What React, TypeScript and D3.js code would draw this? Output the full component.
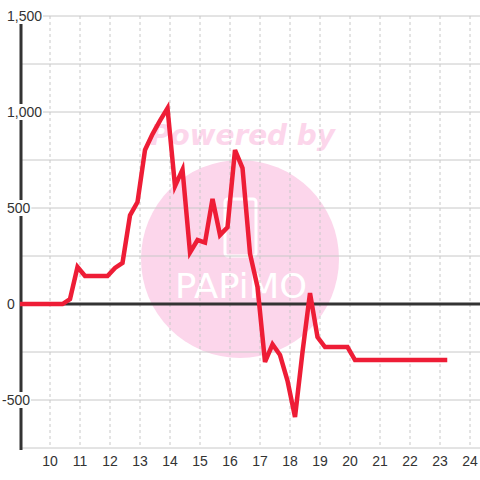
import React from "react";
import * as d3 from "d3";

const times: number[] = [
  8.917, 9.167, 9.417, 9.667, 9.917, 10.167, 10.417, 10.667, 10.917, 11.167,
  11.417, 11.667, 11.917, 12.167, 12.417, 12.667, 12.917, 13.167, 13.417, 13.667,
  13.917, 14.167, 14.417, 14.667, 14.917, 15.167, 15.417, 15.667, 15.917, 16.167,
  16.417, 16.667, 16.917, 17.167, 17.417, 17.667, 17.917, 18.167, 18.417, 18.667,
  18.917, 19.167, 19.417, 19.667, 19.917, 20.167, 20.417, 20.667, 20.917, 21.167,
  21.417, 21.667, 21.917, 22.167, 22.417, 22.667, 22.917, 23.167,
];
const values: number[] = [
  0, 0, 0, 0, 0, 0, 0, 26, 193, 146,
  146, 146, 146, 188, 214, 462, 531, 802, 885, 955,
  1020, 614, 700, 268, 333, 320, 547, 359, 400, 802,
  708, 262, 89, -302, -210, -266, -400, -589, -250, 57,
  -172, -224, -224, -224, -224, -292, -292, -292, -292, -292,
  -292, -292, -292, -292, -292, -292, -292, -292,
];
const xTicks: number[] = [10, 11, 12, 13, 14, 15, 16, 17, 18, 19, 20, 21, 22, 23, 24];
const yTicks: number[] = [-500, 0, 500, 1000, 1500];
const yGrid: number[] = [-750, -500, -250, 250, 500, 750, 1000, 1250, 1500];

const W = 480;
const H = 480;
const left = 20;
const FONT = "'Liberation Sans', Arial, sans-serif";

function fmt(v: number): string {
  return d3.format(",")(v).replace("−", "-");
}
function textWidth(s: string): number {
  let w = 0;
  for (const c of s) {
    if (c === ",") w += 3.89;
    else if (c === "-") w += 4.66;
    else w += 7.78;
  }
  return w;
}

export default function App() {
  const x = d3.scaleLinear().domain([9, 24.3333]).range([left, W]);
  const y = d3.scaleLinear().domain([-750, 1500]).range([448, 16]);
  const pts = times.map((t, i) => [t, values[i]] as [number, number]);
  const line = d3
    .line<[number, number]>()
    .x((d) => x(d[0]))
    .y((d) => y(d[1]));

  return (
    <svg
      width={W}
      height={H}
      style={{ position: "absolute", left: 0, top: 0, background: "#fff" }}
    >
      <defs>
        <clipPath id="plot">
          <rect x={left} y={0} width={W - left} height={H} />
        </clipPath>
      </defs>
      {/* watermark */}
      <g>
        <circle cx={240} cy={259} r={99} fill="#fcd6eb" />
        <text
          x={150}
          y={145}
          fontFamily="'DejaVu Sans', sans-serif"
          fontWeight="bold"
          fontStyle="italic"
          fontSize={29}
          fill="#fcd6eb"
          textLength={185}
          lengthAdjust="spacingAndGlyphs"
        >
          Powered by
        </text>
        <rect
          x={225}
          y={199}
          width={31}
          height={57}
          rx={3}
          fill="none"
          stroke="#fff"
          strokeWidth={3}
        />
        <text
          x={175}
          y={298}
          fontFamily="'DejaVu Sans', sans-serif"
          fontSize={33}
          fill="#fff"
          textLength={132}
          lengthAdjust="spacingAndGlyphs"
        >
          PAPiMO
        </text>
      </g>
      {/* grid */}
      {xTicks.map((t) => (
        <line
          key={"vx" + t}
          x1={x(t)}
          x2={x(t)}
          y1={y(1500)}
          y2={y(-750)}
          stroke="#c8c8c8"
          strokeWidth={1}
          strokeDasharray="3,3"
        />
      ))}
      {yGrid.map((v) => (
        <line
          key={"hy" + v}
          x1={left}
          x2={W}
          y1={y(v)}
          y2={y(v)}
          stroke="#c8c8c8"
          strokeWidth={1}
        />
      ))}
      {/* zero line */}
      <line x1={left} x2={W} y1={y(0)} y2={y(0)} stroke="#333" strokeWidth={3} />
      {/* y axis */}
      <line x1={left + 1} x2={left + 1} y1={y(1500)} y2={y(-750) + 2} stroke="#333" strokeWidth={3} />
      {/* series */}
      <path
        d={line(pts) || ""}
        fill="none"
        stroke="#ee1d36"
        strokeWidth={4.5}
        strokeLinejoin="miter"
        strokeLinecap="square"
        clipPath="url(#plot)"
      />
      {/* y labels */}
      {yTicks.map((v) => {
        const s = fmt(v);
        const w = textWidth(s);
        const tx = v < 0 ? 2 : 7;
        return (
          <g key={"yl" + v}>
            <rect x={tx - 1} y={y(v) - 8} width={w + 2} height={16} fill="#fff" />
            <text
              x={tx}
              y={y(v) + 5}
              fontFamily={FONT}
              fontSize={14}
              fill="#333"
            >
              {s}
            </text>
          </g>
        );
      })}
      {/* x labels */}
      {xTicks.map((t) => (
        <text
          key={"xl" + t}
          x={x(t)}
          y={466}
          textAnchor="middle"
          fontFamily={FONT}
          fontSize={14}
          fill="#333"
        >
          {t}
        </text>
      ))}
    </svg>
  );
}
